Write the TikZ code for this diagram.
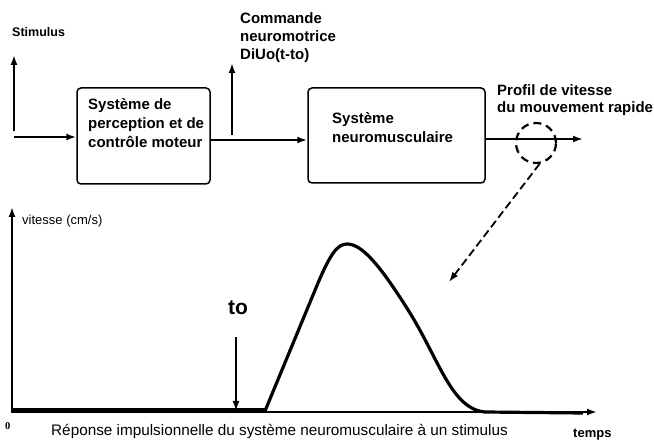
\documentclass[tikz,border=0pt]{standalone}
\usepackage{fontspec}
\setmainfont{Liberation Sans}
\newfontfamily\zerofont{Liberation Serif}
\usetikzlibrary{arrows.meta,positioning}

\begin{document}
\begin{tikzpicture}[x=1pt,y=-1pt,
  box/.style={draw,rounded corners=4pt,line width=1.5pt},
  lbl/.style={inner sep=0pt,anchor=base west,align=left,font=\bfseries\fontsize{15}{19}\selectfont},
  arr/.style={-{Latex[length=10pt,width=7pt]},line width=1.8pt}]
  \useasboundingbox (0,0) rectangle (654,443);
  % block diagram
  \node[box,minimum width=133pt,minimum height=96pt] (percep) at (143.5,136) {};
  \node[box,minimum width=177pt,minimum height=95pt] (neuro) at (396.5,135.5) {};
  \node[lbl] (perceptxt) at (88,148) {Système de\\perception et de\\contrôle moteur};
  \node[lbl] (neurotxt) at (332,143) {Système\\neuromusculaire};
  \node[lbl,font=\bfseries\fontsize{12.5}{15}\selectfont] (stimtxt) at (12,37) {Stimulus};
  \node[lbl,font=\bfseries\fontsize{15}{18}\selectfont] (cmdtxt) at (240,60) {Commande\\neuromotrice\\DiUo(t-to)};
  \node[lbl,font=\bfseries\fontsize{15}{17}\selectfont] (proftxt) at (497,113) {Profil de vitesse\\du mouvement rapide};
  \coordinate (stimbot) at (14,137);
  \coordinate (stimtop) at (14,55);
  \coordinate (cmdbot) at (232,140);
  \coordinate (cmdtop) at (232,63);
  \coordinate (out) at (583,139);
  \draw[arr] (stimbot) ++(0,-6) -- (stimtop);
  \draw[arr] (stimbot) -- (stimbot -| percep.west);
  \draw[arr,line width=2.3pt] (percep.east |- cmdbot) -- (neuro.west |- cmdbot);
  \draw[arr] (cmdbot) ++(0,-5) -- (cmdtop);
  \draw[arr,line width=2.3pt] (neuro.east |- out) -- (out);
  \node[draw,dashed,dash pattern=on 8pt off 5pt,line width=2.2pt,circle,minimum size=40pt] (zoomc) at (536,143) {};
  \coordinate (zoomtip) at (449,282);
  \draw[arr,dashed,dash pattern=on 8pt off 4pt] (zoomc.-80) -- (zoomtip);
  % velocity profile
  \coordinate (orig) at (12,412);
  \coordinate (yend) at (12,207);
  \coordinate (xend) at (597,412);
  \draw[arr,line width=2.4pt] (orig) ++(0,1) -- (yend);
  \draw[arr,line width=2pt] (orig) -- (xend);
  \draw[line width=4.5pt] (12,410.5) -- (265,410.5);
  \draw[line width=3.2pt,line join=round] (265,411) -- (318,283)
    .. controls (330,255) and (337,244) .. (347,244)
    .. controls (362,244) and (380,265) .. (410,313)
    .. controls (440,362) and (452,409) .. (485,412) -- (583,413);
  \node[lbl,font=\fontsize{13}{15}\selectfont] (vtxt) at (22,225) {vitesse (cm/s)};
  \node[lbl,font=\bfseries\fontsize{21}{24}\selectfont] (totxt) at (228,315) {to};
  \coordinate (totop) at (236,337);
  \coordinate (tobot) at (236,411);
  \draw[arr] (totop) -- (tobot);
  \node[lbl,font=\zerofont\bfseries\fontsize{10.5}{12}\selectfont] (zerotxt) at (5,430) {0};
  \node[lbl,font=\fontsize{15.3}{18}\selectfont] (reptxt) at (51,436) {Réponse impulsionnelle du système neuromusculaire à un stimulus};
  \node[lbl,font=\bfseries\fontsize{13}{15}\selectfont] (temptxt) at (573,438) {temps};
\end{tikzpicture}
\end{document}
